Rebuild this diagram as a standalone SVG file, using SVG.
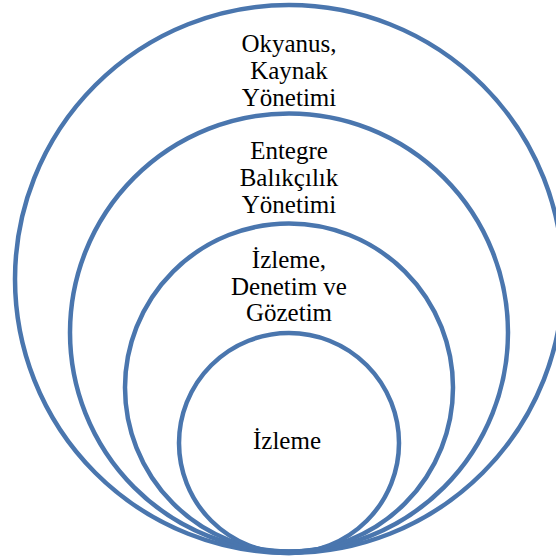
<svg xmlns="http://www.w3.org/2000/svg" width="556" height="558" viewBox="0 0 556 558">
<style>
.ring{fill:none;stroke:#4a76ae;stroke-width:4.5}
.lbl{font-family:"Liberation Serif","Times New Roman",serif;font-size:25px;fill:#000;text-anchor:middle}
</style>
<rect width="556" height="558" fill="#fff"/>
<g id="n1"><circle class="ring" cx="289" cy="279" r="274"/>
<text class="lbl"><tspan x="289" y="52">Okyanus,</tspan><tspan x="289" y="79">Kaynak</tspan><tspan x="289" y="106">Yönetimi</tspan></text></g>
<g id="n2"><circle class="ring" cx="289" cy="332.5" r="219"/>
<text class="lbl"><tspan x="289" y="159">Entegre</tspan><tspan x="289" y="186">Balıkçılık</tspan><tspan x="289" y="213">Yönetimi</tspan></text></g>
<g id="n3"><circle class="ring" cx="289" cy="387.5" r="164"/>
<text class="lbl"><tspan x="289" y="268">İzleme,</tspan><tspan x="289" y="294.5">Denetim ve</tspan><tspan x="289" y="321">Gözetim</tspan></text></g>
<g id="n4"><circle class="ring" cx="289" cy="443" r="110"/>
<text class="lbl" x="287" y="449">İzleme</text></g>
</svg>
